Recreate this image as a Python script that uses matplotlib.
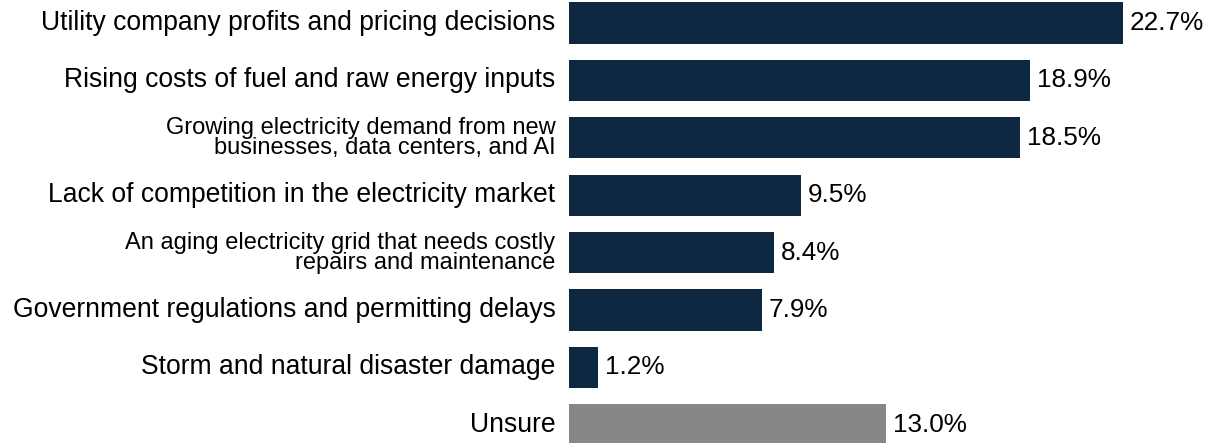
import matplotlib
matplotlib.use("Agg")
import matplotlib.pyplot as plt

categories = [
    "Utility company profits and pricing decisions",
    "Rising costs of fuel and raw energy inputs",
    "Growing electricity demand from new\nbusinesses, data centers, and AI",
    "Lack of competition in the electricity market",
    "An aging electricity grid that needs costly\nrepairs and maintenance",
    "Government regulations and permitting delays",
    "Storm and natural disaster damage",
    "Unsure",
]
values = [22.7, 18.9, 18.5, 9.5, 8.4, 7.9, 1.2, 13.0]
value_labels = ["22.7%", "18.9%", "18.5%", "9.5%", "8.4%", "7.9%", "1.2%", "13.0%"]
colors = ["#0E2841"] * 7 + ["#878787"]

plt.rcParams['font.family'] = ['Liberation Sans', 'DejaVu Sans']

W, H = 1209, 443
fig = plt.figure(figsize=(W / 100, H / 100), dpi=100)
x0 = 569
ax = fig.add_axes([x0 / W, 0, 1 - x0 / W, 1])
scale = 24.4  # px per percent
ax.set_xlim(0, (W - x0) / scale)
pitch = 57.4
top_c = 23.0
ax.set_ylim((H - top_c) / pitch, -top_c / pitch)

pos = list(range(len(categories)))
ax.barh(pos, values, height=0.72, color=colors)

for i, (v, lab, cat) in enumerate(zip(values, value_labels, categories)):
    ax.text(v + 0.28, i, lab, va="center", ha="left", fontsize=18.8, color="#000000")
    multi = "\n" in cat
    ax.text(-0.55, i, cat, va="center", ha="right", fontsize=17 if multi else 19.1,
            color="#000000", linespacing=0.88, clip_on=False)

ax.axis("off")
fig.savefig("out.png", dpi=100)
